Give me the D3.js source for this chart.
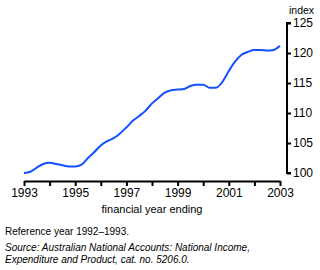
<!DOCTYPE html>
<html>
<head>
<meta charset="utf-8">
<script src="https://cdn.jsdelivr.net/npm/d3@7"></script>
<style>
  body { margin: 0; background: #fff; }
  svg { display: block; font-family: "Liberation Sans", Arial, sans-serif; }
  .axis path, .axis line { stroke: #000; stroke-width: 2; }
  .axis text { font-size: 12px; fill: #000; }
</style>
</head>
<body>
<svg id="chart" width="320" height="270"></svg>
<script>
// quarterly index, 1993 to 2003 (reference year 1992-93 = 100)
var quarters = d3.range(41).map(function(i){ return 1993 + i / 4; });
var values = [
  100.0, 100.2, 100.9, 101.5, 101.7, 101.5, 101.3, 101.1, 101.1, 101.4,
  102.5, 103.5, 104.6, 105.3, 105.8, 106.6, 107.6, 108.7, 109.5, 110.4,
  111.6, 112.5, 113.4, 113.8, 113.9, 114.0, 114.5, 114.7, 114.7, 114.2,
  114.2, 115.2, 117.0, 118.6, 119.7, 120.2, 120.5, 120.5, 120.4, 120.5,
  121.2
];
var yearTicks = d3.range(1993, 2004);
var yTicks = [100, 105, 110, 115, 120, 125];

var svg = d3.select('#chart');

var x = d3.scaleLinear().domain([1993, 2003]).range([24, 280]);
var y = d3.scaleLinear().domain([100, 125]).range([173, 23]);

// x axis
var xAxis = d3.axisBottom(x)
  .tickValues(yearTicks)
  .tickSize(5)
  .tickSizeOuter(0)
  .tickFormat(function(d){ return (d - 1993) % 2 === 0 ? d : ''; });

var gx = svg.append('g')
  .attr('class', 'axis')
  .attr('transform', 'translate(0,181)')
  .call(xAxis);
gx.selectAll('text').attr('dy', '0.85em').attr('y', 6);

// y axis on the right
var yAxis = d3.axisRight(y)
  .tickValues(yTicks)
  .tickSize(4)
  .tickSizeOuter(0);

var gy = svg.append('g')
  .attr('class', 'axis')
  .attr('transform', 'translate(287,0)')
  .call(yAxis);
gy.select('.domain').attr('d', 'M4,' + y(125) + 'H0V' + y(100) + 'H4');
gy.selectAll('text').attr('x', 6);

svg.append('text')
  .attr('x', 289).attr('y', 14)
  .attr('font-size', 10.5)
  .text('index');

svg.append('text')
  .attr('x', 152).attr('y', 213)
  .attr('text-anchor', 'middle')
  .attr('font-size', 11)
  .text('financial year ending');

// the series
var line = d3.line()
  .x(function(d, i){ return x(quarters[i]); })
  .y(function(d){ return y(d); })
  .curve(d3.curveMonotoneX);

svg.append('path')
  .datum(values)
  .attr('fill', 'none')
  .attr('stroke', '#1450ff')
  .attr('stroke-width', 2)
  .attr('d', line);

// notes
svg.append('text')
  .attr('x', 5).attr('y', 235)
  .attr('font-size', 10)
  .text('Reference year 1992\u20131993.');

var src = svg.append('text')
  .attr('font-size', 10)
  .attr('font-style', 'italic');
src.append('tspan').attr('x', 5).attr('y', 251)
  .text('Source: Australian National Accounts: National Income,');
src.append('tspan').attr('x', 5).attr('y', 263)
  .text('Expenditure and Product, cat. no. 5206.0.');
</script>
</body>
</html>
